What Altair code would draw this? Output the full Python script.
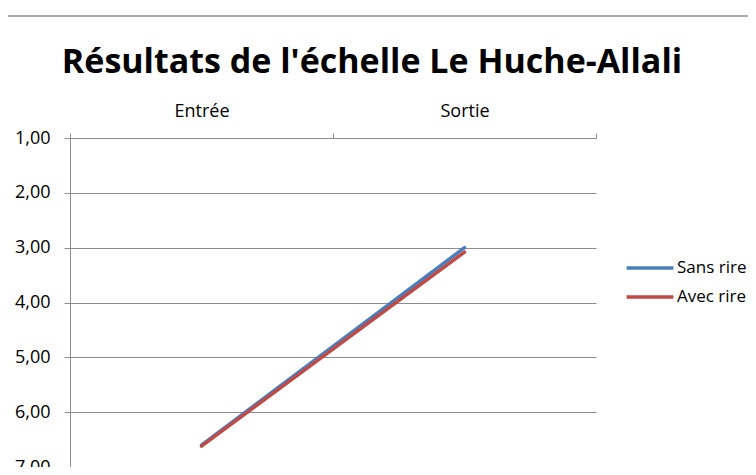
import altair as alt
import pandas as pd

categories = ["Entrée", "Sortie"]
series_names = ["Sans rire", "Avec rire"]
sans_rire = [6.60, 3.00]
avec_rire = [6.62, 3.08]
y_ticks = [1, 2, 3, 4, 5, 6, 7]
colors = ["#4A7EBB", "#BE4B48"]
title_text = "Résultats de l'échelle Le Huche-Allali"

rows = []
for name, vals in zip(series_names, [sans_rire, avec_rire]):
    for c, v in zip(categories, vals):
        rows.append({"Période": c, "Score": v, "Série": name, "ordre": series_names.index(name)})
df = pd.DataFrame(rows)

FONT = "Open Sans"
GRID = "#8C8C8C"

lines = alt.Chart(df).mark_line(strokeWidth=3.5, strokeCap="round").encode(
    x=alt.X("Période:N", sort=categories, title=None,
            scale=alt.Scale(paddingInner=0, paddingOuter=0),
            axis=alt.Axis(orient="top", labelAngle=0, tickBand="extent", tickSize=5,
                          labelPadding=13, labelFontSize=18, labelColor="#000000",
                          labelFont=FONT, domainColor=GRID, tickColor=GRID, grid=False)),
    y=alt.Y("Score:Q", title=None,
            scale=alt.Scale(domain=[1, 7], reverse=True, nice=False, zero=False),
            axis=alt.Axis(values=y_ticks, labelExpr="replace(format(datum.value, '.2f'), '.', ',')",
                          grid=True, gridColor=GRID, domainColor=GRID, tickColor=GRID,
                          tickSize=6, labelPadding=14, labelFontSize=18, labelColor="#000000",
                          labelFont=FONT)),
    color=alt.Color("Série:N", sort=series_names,
                    scale=alt.Scale(domain=series_names, range=colors),
                    legend=alt.Legend(title=None, orient="none", legendX=570, legendY=120,
                                      symbolType="M-3,0H3", symbolSize=244, symbolStrokeWidth=3.5,
                                      labelFontSize=17, labelFont=FONT, labelColor="#000000",
                                      rowPadding=11, labelOffset=17)),
    order="ordre:Q",
)

border = alt.Chart(pd.DataFrame({"a": [0]})).mark_rule(color="#8C8C8C", strokeWidth=1.5).encode(
    x=alt.value(-70), x2=alt.value(700), y=alt.value(-122)
)

title = alt.Chart(pd.DataFrame({"t": [title_text]})).mark_text(
    font=FONT, fontSize=34, fontWeight="bold", color="#000000", align="center",
    baseline="alphabetic"
).encode(text="t:N", x=alt.value(302), y=alt.value(-65))

chart = alt.layer(border, title, lines).properties(
    width=526, height=329,
    padding={"left": 62, "top": 130, "right": 152, "bottom": 0},
    autosize=alt.AutoSizeParams(type="none"),
    background="white",
).configure_view(stroke=None)

chart.save("out.html", embed_options={"renderer": "svg", "actions": False})
